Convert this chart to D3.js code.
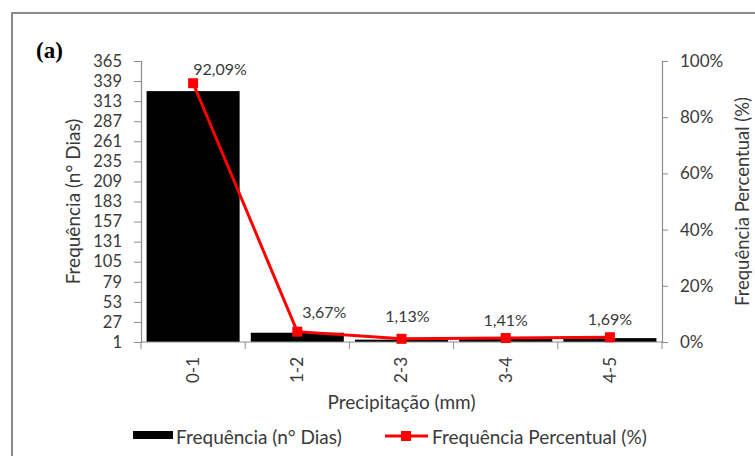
<!DOCTYPE html>
<html>
<head>
<meta charset="utf-8">
<script src="https://cdn.jsdelivr.net/npm/d3@7"></script>
<style>
  html, body { margin: 0; padding: 0; background: #fff; }
  svg { display: block; }
</style>
</head>
<body>
<svg id="chart" width="755" height="456"></svg>
<script>
// ---- data ----
const categories = ["0-1", "1-2", "2-3", "3-4", "4-5"];
const dias = [326, 13, 4, 5, 6];
const percentual = [0.9209, 0.0367, 0.0113, 0.0141, 0.0169];
const percentLabels = ["92,09%", "3,67%", "1,13%", "1,41%", "1,69%"];
const leftTicks = [1, 27, 53, 79, 105, 131, 157, 183, 209, 235, 261, 287, 313, 339, 365];
const rightTicks = [0, 0.2, 0.4, 0.6, 0.8, 1.0];

(function () {
const svg = d3.select("#chart");
const font = "Lato, 'Open Sans', sans-serif";
const axisColor = "#8c8c8c";
const textColor = "#3a3a3a";
const pL = 141, pR = 662, pT = 61, pB = 342;

// outer frame
svg.append("rect").attr("x", 12).attr("y", 13).attr("width", 800).attr("height", 500)
  .attr("fill", "none").attr("stroke", "#8a8a8a").attr("stroke-width", 2);

const x = d3.scaleBand().domain(categories).range([pL, pR]).padding(0);
const yL = d3.scaleLinear().domain([1, 365]).range([pB, pT]);
const yR = d3.scaleLinear().domain([0, 1]).range([pB, pT]);

// bars
const bw = x.bandwidth() * 0.893;
svg.append("g").selectAll("rect").data(categories).join("rect")
  .attr("x", (d) => x(d) + (x.bandwidth() - bw) / 2)
  .attr("y", (d, i) => yL(dias[i]))
  .attr("width", bw)
  .attr("height", (d, i) => yL(1) - yL(dias[i]))
  .attr("fill", "#000");

// left axis
const gL = svg.append("g").attr("transform", `translate(${pL},0)`)
  .call(d3.axisLeft(yL).tickValues(leftTicks).tickSize(7).tickPadding(12));
// right axis
const gR = svg.append("g").attr("transform", `translate(${pR},0)`)
  .call(d3.axisRight(yR).tickValues(rightTicks).tickSize(6).tickPadding(12).tickFormat(d3.format(".0%")));
// bottom axis
const gB = svg.append("g").attr("transform", `translate(0,${pB})`)
  .call(d3.axisBottom(x).tickSize(0).tickPadding(0));
// band boundary ticks
const boundaries = categories.map((c) => x(c)).concat([pR]);
gB.selectAll(".bt").data(boundaries).join("line").attr("class", "bt")
  .attr("x1", (d) => d).attr("x2", (d) => d).attr("y1", 0).attr("y2", 7)
  .attr("stroke", axisColor);

[gL, gR, gB].forEach((g) => {
  g.select(".domain").attr("stroke", axisColor).attr("stroke-width", 1.2);
  g.selectAll(".tick line").attr("stroke", axisColor);
  g.selectAll("text").attr("fill", textColor).style("font-family", font).style("font-size", "16.5px");
});
gR.selectAll("text").style("font-size", "17px");
gB.selectAll("text").style("font-size", "17px");
gB.select(".domain").attr("d", `M${pL},0H${pR}`);
gB.selectAll(".tick text")
  .attr("transform", "rotate(-90)")
  .attr("text-anchor", "end")
  .attr("x", -15).attr("y", 0).attr("dy", "0.35em");

// line + markers
const pts = categories.map((c, i) => [x(c) + x.bandwidth() / 2, yR(percentual[i])]);
svg.append("path").datum(pts).attr("d", d3.line())
  .attr("fill", "none").attr("stroke", "#ff0000").attr("stroke-width", 3);
svg.append("g").selectAll("rect").data(pts).join("rect")
  .attr("x", (d) => d[0] - 5).attr("y", (d) => d[1] - 5)
  .attr("width", 10).attr("height", 10).attr("fill", "#ff0000");

// data labels (placed above each point; first two nudged right of the line)
const nudge = (i) => (i < 2 ? 27 : i === 2 ? 6 : 0);
const lift = (i) => (i === 0 ? 8 : i === 1 ? 14 : i === 2 ? 17 : 12);
svg.append("g").selectAll("text").data(pts).join("text")
  .attr("x", (d, i) => d[0] + nudge(i))
  .attr("y", (d, i) => d[1] - lift(i))
  .attr("text-anchor", "middle")
  .style("font-family", font).style("font-size", "16px").attr("fill", textColor)
  .text((d, i) => percentLabels[i]);

// axis titles
svg.append("text").attr("transform", `translate(80,${(pT + pB) / 2}) rotate(-90)`)
  .attr("text-anchor", "middle")
  .style("font-family", font).style("font-size", "19px").attr("fill", textColor)
  .text("Frequência (n° Dias)");
svg.append("text").attr("transform", `translate(749,${(pT + pB) / 2}) rotate(-90)`)
  .attr("text-anchor", "middle")
  .style("font-family", font).style("font-size", "18.5px").attr("fill", textColor)
  .text("Frequência Percentual (%)");
svg.append("text").attr("x", (pL + pR) / 2).attr("y", 409)
  .attr("text-anchor", "middle")
  .style("font-family", font).style("font-size", "19px").attr("fill", textColor)
  .text("Precipitação (mm)");

// panel label
svg.append("text").attr("x", 36).attr("y", 58)
  .style("font-family", "'Liberation Serif', serif").style("font-weight", "bold").style("font-size", "23px")
  .attr("fill", "#000").text("(a)");

// legend
const lg = svg.append("g");
lg.append("rect").attr("x", 133).attr("y", 431).attr("width", 40).attr("height", 8).attr("fill", "#000");
lg.append("text").attr("x", 176).attr("y", 444)
  .style("font-family", font).style("font-size", "19px").attr("fill", textColor)
  .text("Frequência (n° Dias)");
lg.append("line").attr("x1", 385).attr("x2", 428).attr("y1", 436).attr("y2", 436)
  .attr("stroke", "#ff0000").attr("stroke-width", 3);
lg.append("rect").attr("x", 401).attr("y", 431).attr("width", 10).attr("height", 10).attr("fill", "#ff0000");
lg.append("text").attr("x", 432).attr("y", 444)
  .style("font-family", font).style("font-size", "19px").attr("fill", textColor)
  .text("Frequência Percentual (%)");
})();
</script>
</body>
</html>
